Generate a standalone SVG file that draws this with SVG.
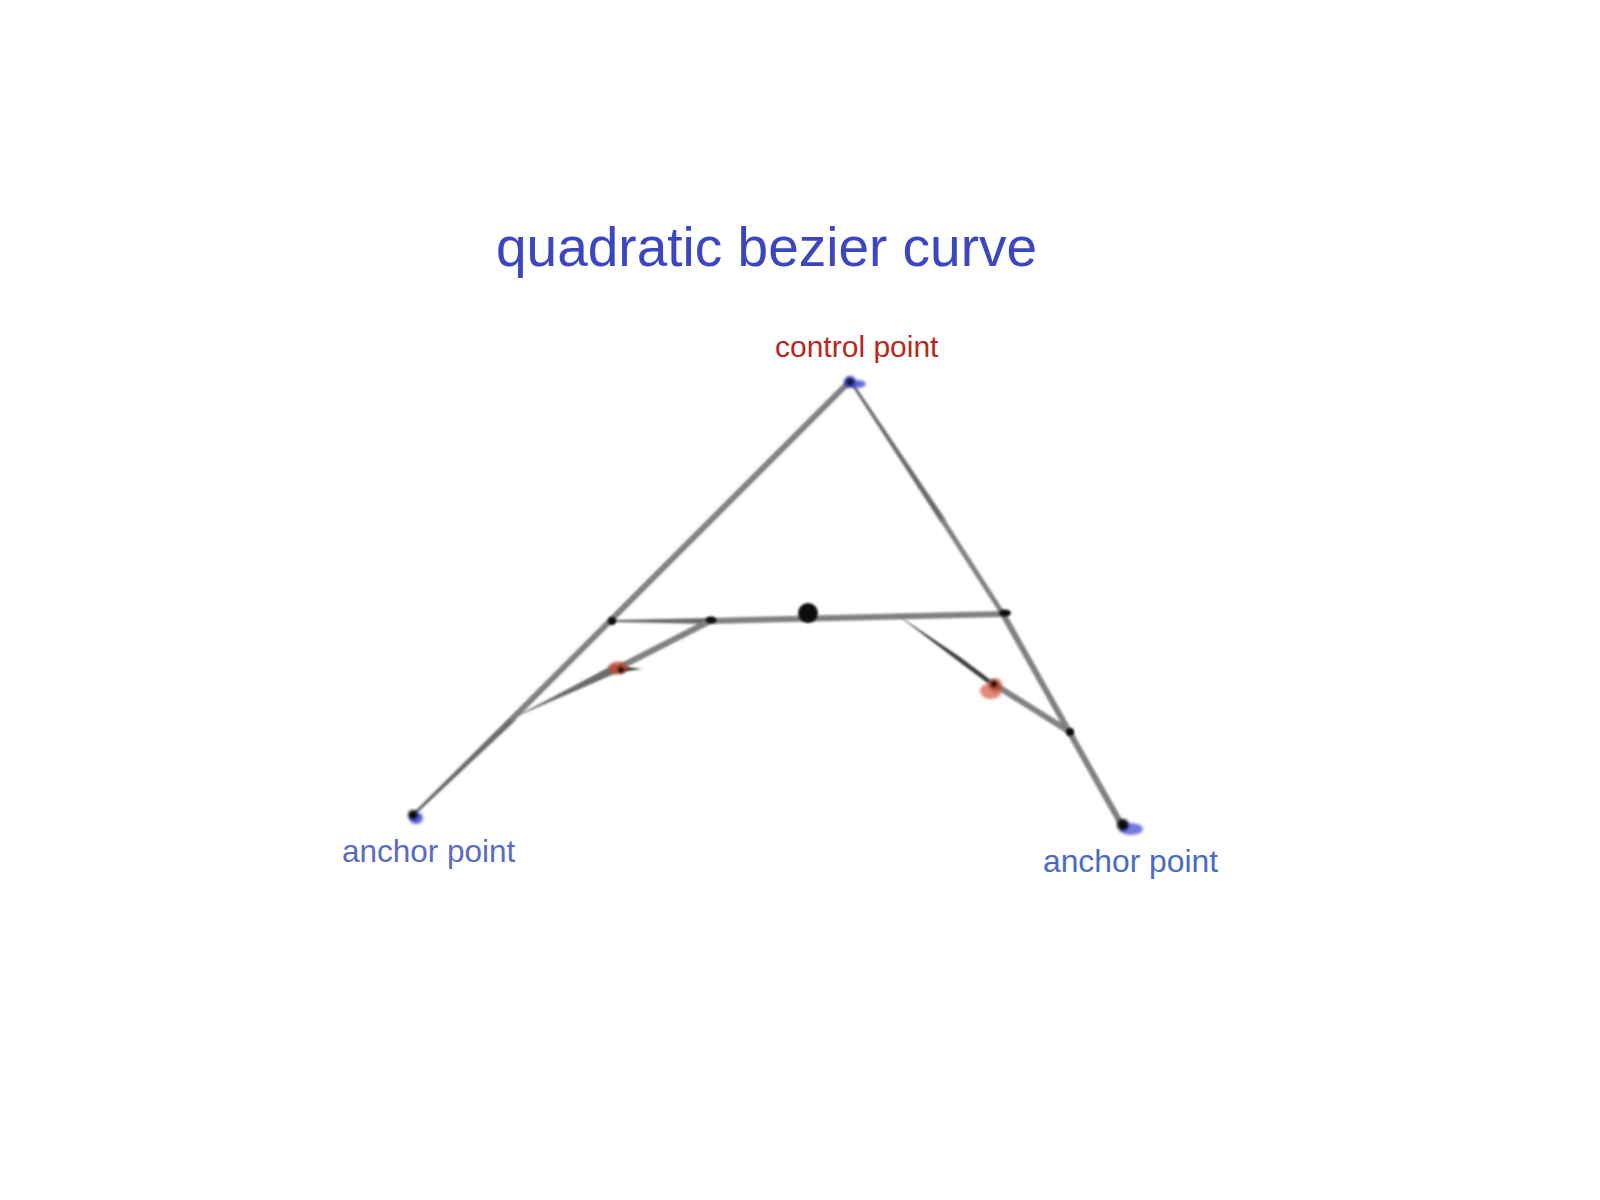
<svg xmlns="http://www.w3.org/2000/svg" width="1600" height="1200" viewBox="0 0 1600 1200">
<defs>
<filter id="soft" x="-20%" y="-20%" width="140%" height="140%"><feGaussianBlur stdDeviation="1.1"/></filter>
<filter id="smudge" x="-50%" y="-50%" width="200%" height="200%"><feGaussianBlur stdDeviation="1.8"/></filter>
</defs>
<style>
.ln{stroke:#808080;fill:none;stroke-linecap:round}
.tp{fill:#6a6a6a}
.dot{fill:#111}
.lbl{font-family:"Liberation Sans",Arial,Helvetica,sans-serif}
</style>
<rect width="1600" height="1200" fill="#ffffff"/>
<text class="lbl" x="496" y="266" font-size="55" fill="#3b46c0">quadratic bezier curve</text>

<g id="connectors" filter="url(#soft)">
<!-- left hull line P0 to P1 -->
<polygon class="tp" points="412,814 414,816 516,720 511,716"/>
<line class="ln" x1="513" y1="718" x2="848" y2="383" stroke-width="6"/>
<!-- right hull line P1 to P2 -->
<polygon class="tp" points="850,383 852,381 946,520 941,523"/>
<line class="ln" x1="943" y1="521" x2="1003" y2="614" stroke-width="5"/>
<line class="ln" x1="1003" y1="614" x2="1120" y2="822" stroke-width="6"/>
<!-- middle line -->
<polygon class="tp" points="612,620 710,618 710,624 612,622"/>
<line class="ln" x1="710" y1="621" x2="1003" y2="614" stroke-width="6"/>
<!-- left inner line -->
<polygon class="tp" points="513,718 615,664 621,671"/>
<line class="ln" x1="618" y1="668" x2="710" y2="621" stroke-width="6"/>
<polygon fill="#222" points="616,666 642,669 618,672"/>
<!-- right inner line -->
<polygon fill="#3a3a3a" points="896,614 960,657 992,681 990,685 958,661"/>
<line class="ln" x1="992" y1="683" x2="1070" y2="732" stroke-width="6"/>
</g>

<g id="control-point">
<g filter="url(#smudge)">
<ellipse cx="857" cy="384" rx="9" ry="4" fill="#4452d0" opacity="0.85"/>
<circle cx="850" cy="382" r="6" fill="#3a46c0"/>
<circle cx="850" cy="382" r="4" fill="#141848"/>
</g>
<text class="lbl" x="775" y="357" font-size="30" fill="#b8281c">control point</text>
</g>

<g id="anchor-left">
<g filter="url(#smudge)">
<ellipse cx="416" cy="818" rx="7" ry="6" fill="#3c44d0" opacity="0.85"/>
<circle cx="413" cy="815" r="5" fill="#0a0a10"/>
</g>
<text class="lbl" x="342" y="862" font-size="31.5" fill="#5a6bc0">anchor point</text>
</g>

<g id="anchor-right">
<g filter="url(#smudge)">
<ellipse cx="1131" cy="829" rx="12" ry="6" fill="#4a58d8" opacity="0.8"/>
<circle cx="1123" cy="825" r="6" fill="#0a0a10"/>
</g>
<text class="lbl" x="1043" y="872" font-size="31.8" fill="#4a6ac4">anchor point</text>
</g>

<g id="mid-points" filter="url(#soft)">
<circle class="dot" cx="612" cy="621" r="4"/>
<ellipse class="dot" cx="711" cy="620" rx="5.5" ry="3.5"/>
<circle class="dot" cx="808" cy="613" r="10"/>
<ellipse class="dot" cx="1005" cy="613" rx="6" ry="3.5"/>
<circle class="dot" cx="1070" cy="732" r="4"/>
</g>

<g id="inner-left-point">
<g filter="url(#smudge)">
<ellipse cx="618" cy="668" rx="10" ry="6.5" fill="#c84a30" opacity="0.8"/>
<circle cx="621" cy="670" r="3.5" fill="#1a0a08"/>
</g>
</g>

<g id="inner-right-point">
<g filter="url(#smudge)">
<ellipse cx="991" cy="691" rx="11" ry="8" fill="#d05a40" opacity="0.7"/>
<ellipse cx="995" cy="685" rx="7" ry="7" fill="#b84630" opacity="0.7"/>
<circle cx="994" cy="684" r="3.5" fill="#1a0a08"/>
</g>
</g>
</svg>
